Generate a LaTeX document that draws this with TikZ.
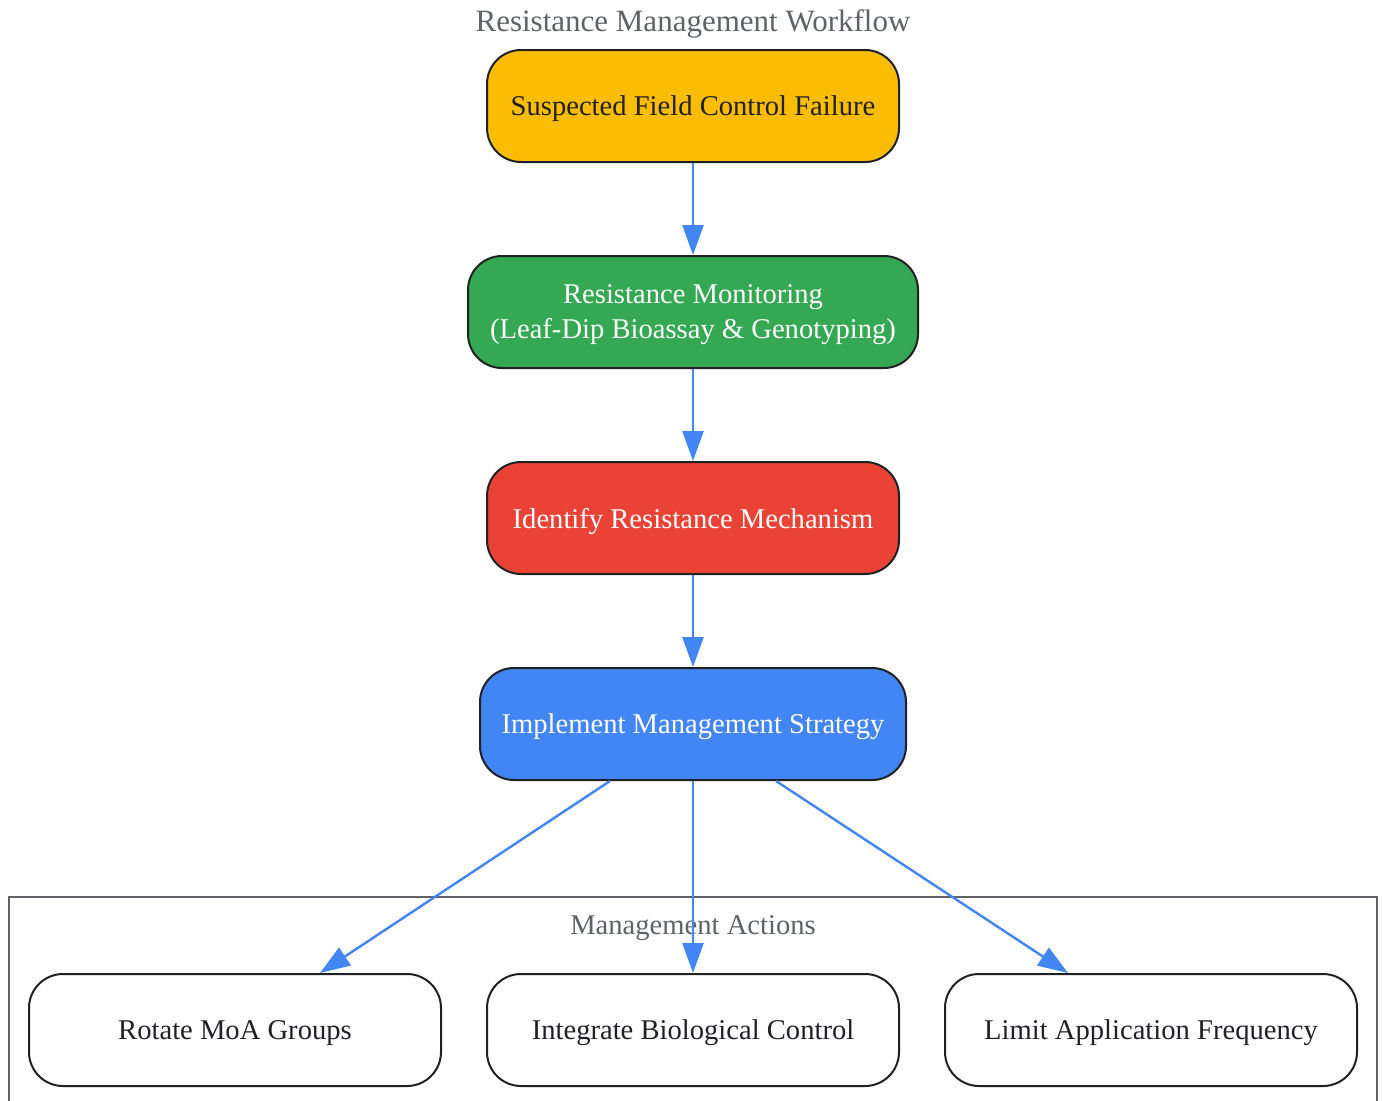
\documentclass[tikz,border=0pt]{standalone}
\usepackage{fontspec}
\setmainfont{Liberation Serif}
\usetikzlibrary{arrows.meta,calc}
\definecolor{gyellow}{HTML}{FBBC04}
\definecolor{ggreen}{HTML}{34A853}
\definecolor{gred}{HTML}{EA4335}
\definecolor{gblue}{HTML}{4285F4}
\definecolor{ggray}{HTML}{5F6368}
\definecolor{gdark}{HTML}{202124}
\tikzset{
  x=1pt, y=-1pt,
  box/.style={draw=gdark, line width=2pt, rounded corners=34pt, minimum height=112pt,
    align=center, font=\fontsize{28.6}{35}\selectfont, inner sep=0pt, text depth=0pt},
  conn/.style={draw=gblue, line width=2.4pt, -{Triangle[length=30pt,width=21pt]}},
}
\begin{document}
\begin{tikzpicture}
\useasboundingbox (0,0) rectangle (1383,1100);
\fill[white] (0,0) rectangle (1383,1100);
\node[text=ggray, font=\fontsize{31}{33}\selectfont] (title) at (693,24) {Resistance Management Workflow};
% cluster
\draw[ggray, line width=2pt] (9,1104) -- (9,897) -- (1377,897) -- (1377,1104);
\node[text=ggray, font=\fontsize{28.6}{30}\selectfont] (clabel) at (693,928) {Management Actions};
\node[box, fill=gyellow, text=gdark, minimum width=412pt] (n1) at (693,106) {Suspected Field Control Failure};
\node[box, fill=ggreen, text=white, minimum width=450pt] (n2) at (693,312) {Resistance Monitoring\\(Leaf-Dip Bioassay \& Genotyping)};
\node[box, fill=gred, text=white, minimum width=412pt] (n3) at (693,518) {Identify Resistance Mechanism};
\node[box, fill=gblue, text=white, minimum width=426pt] (n4) at (693,724) {Implement Management Strategy};
\node[box, fill=white, text=gdark, minimum width=412pt] (a1) at (235,1030) {Rotate MoA Groups};
\node[box, fill=white, text=gdark, minimum width=412pt] (a2) at (693,1030) {Integrate Biological Control};
\node[box, fill=white, text=gdark, minimum width=412pt] (a3) at (1151,1030) {Limit Application Frequency};
\draw[conn] (n1.south) -- (n2.north);
\draw[conn] (n2.south) -- (n3.north);
\draw[conn] (n3.south) -- (n4.north);
\draw[conn] ($(n4.south)+(-83,0)$) -- ($(a1.north)+(85,0)$);
\draw[conn] (n4.south) -- (a2.north);
\draw[conn] ($(n4.south)+(83,0)$) -- ($(a3.north)+(-83,0)$);
\end{tikzpicture}
\end{document}
